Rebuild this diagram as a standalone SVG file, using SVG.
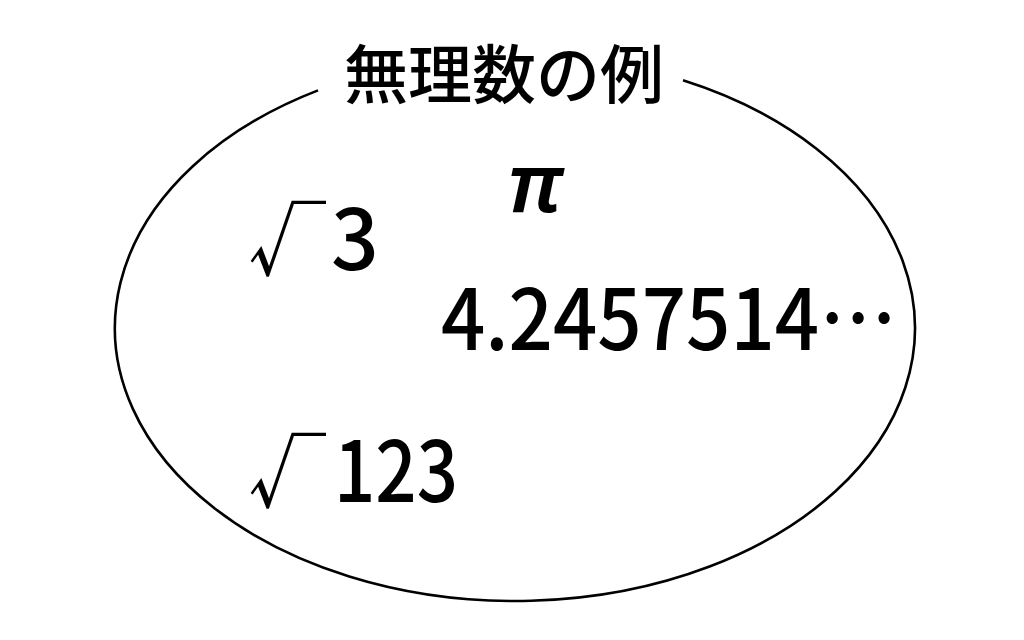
<svg xmlns="http://www.w3.org/2000/svg" width="1024" height="640" viewBox="0 0 1024 640">
<style>
.num{font-family:"Noto Sans CJK JP","Noto Sans",sans-serif;font-size:84px;font-weight:500;fill:#000}
.rad{font-size:78px;font-weight:400}
.pi{font-family:"Noto Sans",sans-serif;font-size:82px;font-style:italic;font-weight:600;fill:#000}
.title{font-family:"Noto Sans CJK JP","Noto Sans",sans-serif;font-size:64px;font-weight:500;fill:#000}
</style>
<rect width="1024" height="640" fill="#fff"/>
<g id="set">
<path d="M318 90.4 A400 273 0 1 0 683 80.3" fill="none" stroke="#000" stroke-width="2.6"/>
</g>
<g id="title"><text class="title" x="504" y="98" text-anchor="middle">無理数の例</text></g>
<g id="pi"><text class="pi" x="535" y="212" text-anchor="middle">π</text></g>
<g id="sqrt3"><text class="num" y="270"><tspan class="rad" x="248">√</tspan><tspan x="331">3</tspan></text></g>
<g id="decimal"><text class="num" x="441" y="350" textLength="456" lengthAdjust="spacingAndGlyphs">4.2457514…</text></g>
<g id="sqrt123"><text class="num" y="502"><tspan class="rad" x="248">√</tspan><tspan x="334" textLength="124" lengthAdjust="spacingAndGlyphs">123</tspan></text></g>
</svg>
